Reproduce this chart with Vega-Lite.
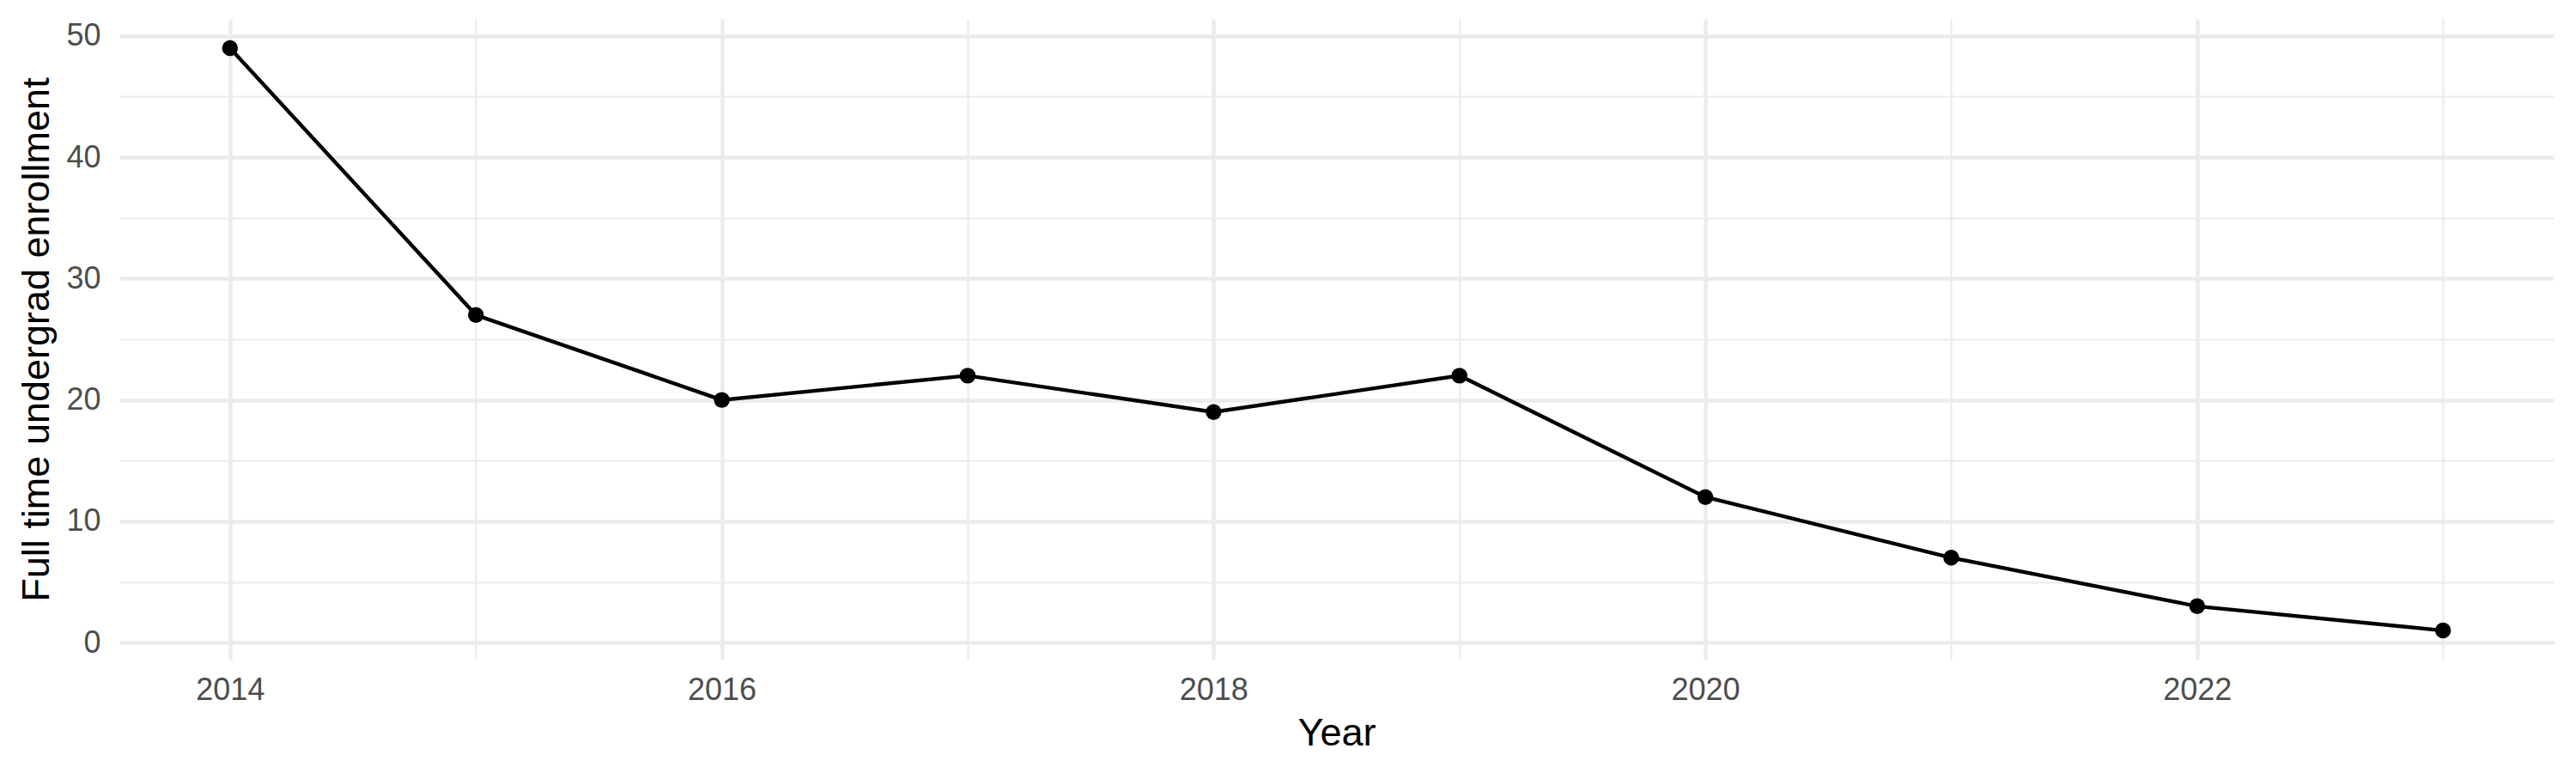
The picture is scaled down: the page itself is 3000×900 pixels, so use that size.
{
  "$schema": "https://vega.github.io/schema/vega-lite/v6.json",
  "autosize": "none",
  "width": 2835,
  "height": 746,
  "padding": {"left": 139, "top": 22, "right": 26, "bottom": 132},
  "background": "white",
  "config": {
    "view": {"stroke": null},
    "font": "Liberation Sans",
    "axis": {
      "domain": false,
      "ticks": false,
      "tickSize": 0,
      "gridColor": "#EBEBEB",
      "labelFont": "Liberation Sans",
      "labelColor": "#4D4D4D",
      "labelFontSize": 36,
      "titleFont": "Liberation Sans",
      "titleFontSize": 45,
      "titleFontWeight": "normal",
      "titleColor": "#000000"
    }
  },
  "data": {
    "values": [
      {"Year": 2014, "Enrollment": 49},
      {"Year": 2015, "Enrollment": 27},
      {"Year": 2016, "Enrollment": 20},
      {"Year": 2017, "Enrollment": 22},
      {"Year": 2018, "Enrollment": 19},
      {"Year": 2019, "Enrollment": 22},
      {"Year": 2020, "Enrollment": 12},
      {"Year": 2021, "Enrollment": 7},
      {"Year": 2022, "Enrollment": 3},
      {"Year": 2023, "Enrollment": 1}
    ]
  },
  "layer": [
    {
      "mark": {"type": "line", "color": "#000000", "strokeWidth": 4.4},
      "encoding": {
        "x": {
          "field": "Year", "type": "quantitative",
          "scale": {"domain": [2013.55, 2023.45], "nice": false, "zero": false},
          "axis": {
            "orient": "bottom",
            "values": [2014, 2016, 2018, 2020, 2022],
            "format": "d",
            "grid": true,
            "gridWidth": 4.4,
            "labelPadding": 18,
            "title": "Year",
            "titlePadding": 10
          }
        },
        "y": {
          "field": "Enrollment", "type": "quantitative",
          "scale": {"domain": [-1.4, 51.4], "nice": false, "zero": false},
          "axis": {
            "orient": "left",
            "values": [0, 10, 20, 30, 40, 50],
            "grid": true,
            "gridWidth": 4.4,
            "labelPadding": 22,
            "title": "Full time undergrad enrollment",
            "titlePadding": 11
          }
        }
      }
    },
    {
      "mark": {"type": "point", "filled": true, "color": "#000000", "opacity": 1, "size": 340},
      "encoding": {
        "x": {
          "field": "Year", "type": "quantitative",
          "axis": {
            "orient": "bottom",
            "values": [2015, 2017, 2019, 2021, 2023],
            "grid": true,
            "gridWidth": 2.2,
            "labels": false,
            "title": null
          }
        },
        "y": {
          "field": "Enrollment", "type": "quantitative",
          "axis": {
            "orient": "left",
            "values": [5, 15, 25, 35, 45],
            "grid": true,
            "gridWidth": 2.2,
            "labels": false,
            "title": null
          }
        }
      }
    }
  ],
  "resolve": {"axis": {"x": "independent", "y": "independent"}}
}
